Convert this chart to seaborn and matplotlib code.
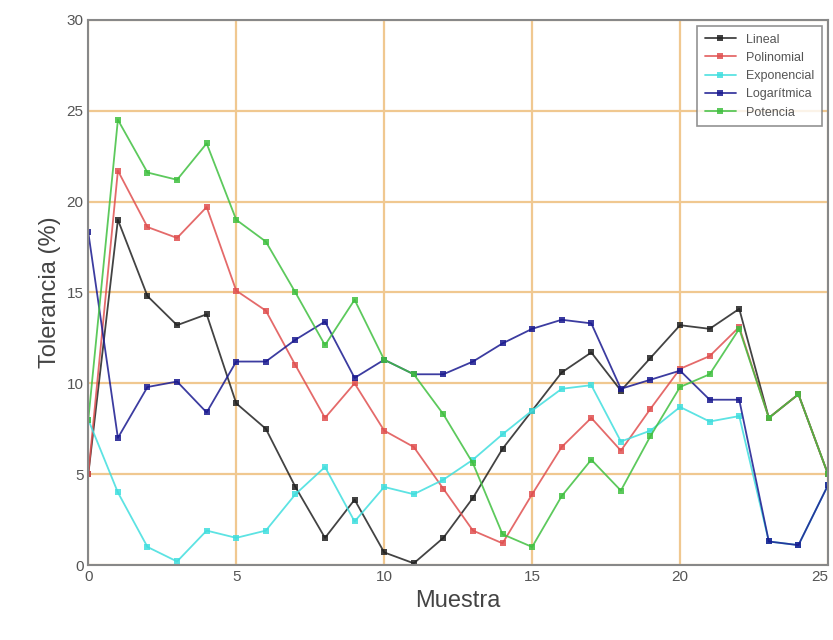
import numpy as np
import pandas as pd
import matplotlib
matplotlib.use('Agg')
import matplotlib.pyplot as plt
import seaborn as sns

# Datos (muestras 0..25)
muestra = list(range(26))

lineal = [5.0, 19.0, 14.8, 13.2, 13.8, 8.9, 7.5, 4.3, 1.5, 3.6, 0.7, 0.1, 1.5,
          3.7, 6.4, 8.5, 10.6, 11.7, 9.6, 11.4, 13.2, 13.0, 14.1, 8.1, 9.4, 5.0]
polinomial = [5.0, 21.7, 18.6, 18.0, 19.7, 15.1, 14.0, 11.0, 8.1, 10.0, 7.4, 6.5, 4.2,
              1.9, 1.2, 3.9, 6.5, 8.1, 6.3, 8.6, 10.8, 11.5, 13.1, 8.1, 9.4, 5.0]
exponencial = [8.0, 4.0, 1.0, 0.2, 1.9, 1.5, 1.9, 3.9, 5.4, 2.4, 4.3, 3.9, 4.7,
               5.8, 7.2, 8.5, 9.7, 9.9, 6.8, 7.4, 8.7, 7.9, 8.2, 1.3, 1.1, 4.4]
logaritmica = [18.3, 7.0, 9.8, 10.1, 8.4, 11.2, 11.2, 12.4, 13.4, 10.3, 11.3, 10.5, 10.5,
               11.2, 12.2, 13.0, 13.5, 13.3, 9.7, 10.2, 10.7, 9.1, 9.1, 1.3, 1.1, 4.4]
potencia = [8.0, 24.5, 21.6, 21.2, 23.2, 19.0, 17.8, 15.0, 12.1, 14.6, 11.3, 10.5, 8.3,
            5.6, 1.7, 1.0, 3.8, 5.8, 4.1, 7.1, 9.8, 10.5, 13.0, 8.1, 9.4, 5.0]

nombres = ['Lineal', 'Polinomial', 'Exponencial', 'Logarítmica', 'Potencia']
series = [lineal, polinomial, exponencial, logaritmica, potencia]
colores = ['#222222', '#e05050', '#40dede', '#1a1a90', '#40c040']

df = pd.DataFrame({
    'Muestra': muestra * len(nombres),
    'Tolerancia': sum(series, []),
    'Modelo': [n for n in nombres for _ in muestra],
})

sns.set_style('white')
plt.rcParams['font.family'] = ['Liberation Sans', 'DejaVu Sans']

fig, ax = plt.subplots(figsize=(8.33, 6.4), dpi=100)
fig.subplots_adjust(left=0.106, right=0.994, bottom=0.117, top=0.969)

sns.lineplot(data=df, x='Muestra', y='Tolerancia', hue='Modelo', hue_order=nombres,
             palette=colores, marker='s', markersize=4, markeredgewidth=0,
             linewidth=1.3, alpha=0.85, ax=ax)

ax.set_xlim(0, 25)
ax.set_ylim(0, 30)
ax.set_xticks(range(0, 26, 5))
ax.set_yticks(range(0, 31, 5))
ax.grid(True, color='#f0c890', linewidth=1.6)
ax.set_axisbelow(True)
for s in ax.spines.values():
    s.set_color('#888888')
    s.set_linewidth(1.5)
ax.tick_params(axis='both', labelsize=11, colors='#555555', length=3, direction='in')
# la ultima etiqueta del eje x queda pegada al borde
ax.get_xticklabels()[-1].set_horizontalalignment('right')
ax.set_xlabel('Muestra', fontsize=17, color='#444444')
ax.set_ylabel('Tolerancia (%)', fontsize=17, color='#444444')

leg = ax.legend(loc='upper right', fontsize=9, frameon=True, fancybox=False,
                edgecolor='#777777', handlelength=2.5, borderpad=0.6)
leg.get_frame().set_linewidth(1.2)
for t in leg.get_texts():
    t.set_color('#555555')

fig.savefig('out.png', dpi=100)
